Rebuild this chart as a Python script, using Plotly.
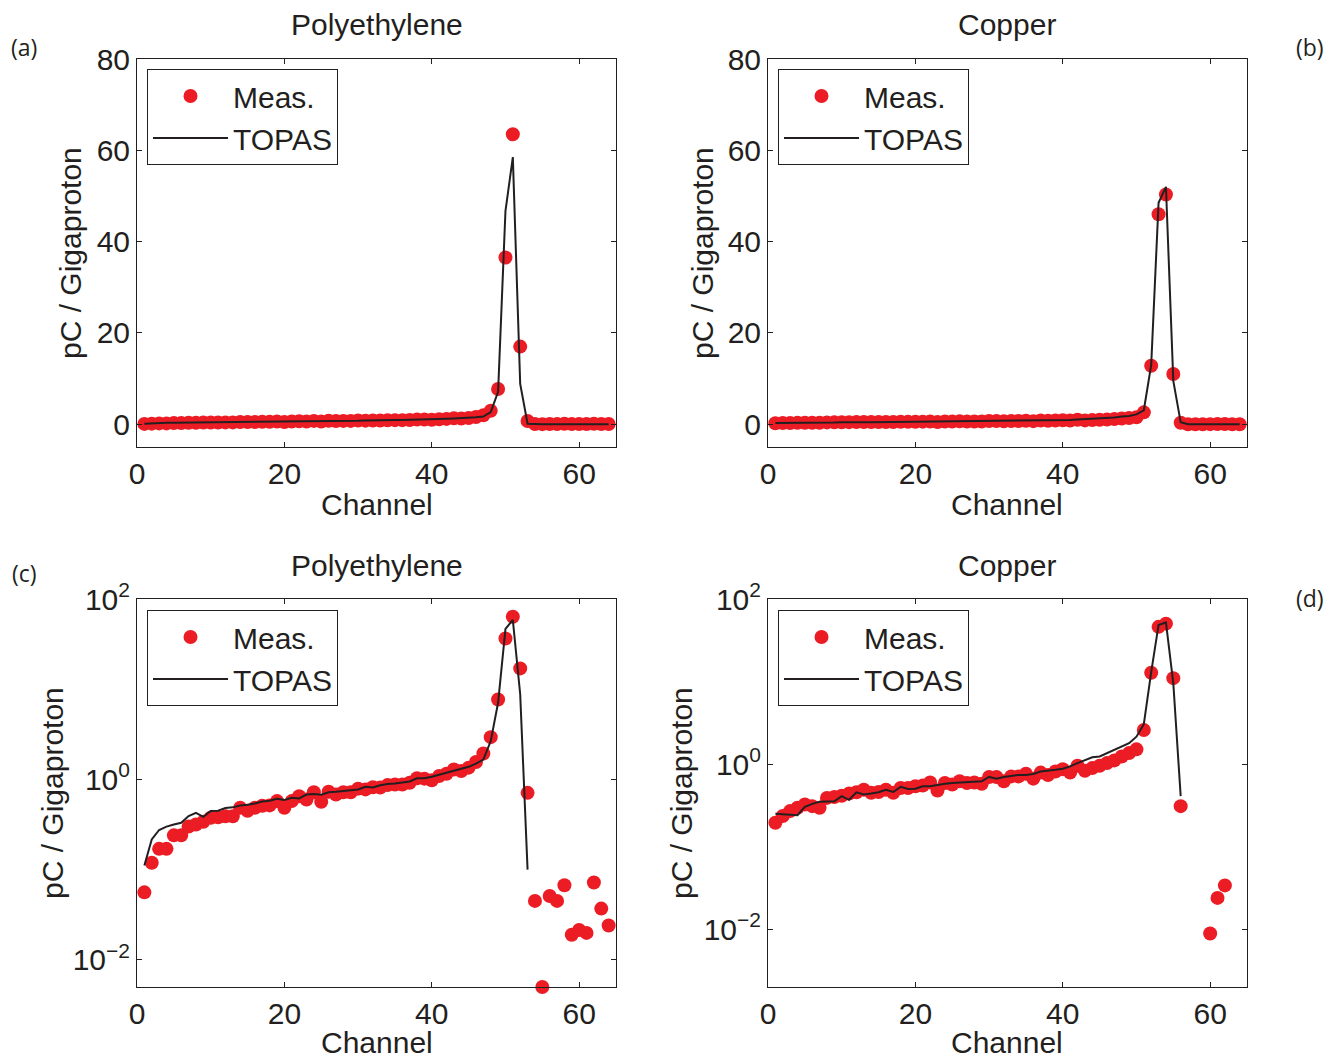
import math
import plotly.graph_objects as go

W, H = 1335, 1057

channels = list(range(1, 65))

poly_meas = [0.056, 0.119, 0.17, 0.17, 0.24, 0.24, 0.30, 0.317, 0.34, 0.376,
             0.38, 0.39, 0.39, 0.485, 0.45, 0.485, 0.51, 0.515, 0.575, 0.485,
             0.575, 0.65, 0.60, 0.72, 0.565, 0.73, 0.68, 0.72, 0.72, 0.79,
             0.775, 0.82, 0.815, 0.865, 0.88, 0.88, 0.92, 1.03, 1.02, 0.98,
             1.09, 1.155, 1.29, 1.24, 1.35, 1.56, 1.94, 2.94, 7.7, 36.5,
             63.5, 17.0, 0.71, 0.045, 0.005, 0.051, 0.045, 0.067, 0.019, 0.0214,
             0.0199, 0.072, 0.037, 0.024]

poly_topas = [0.111, 0.216, 0.275, 0.30, 0.317, 0.331, 0.392, 0.427, 0.385, 0.446,
              0.45, 0.481, 0.49, 0.515, 0.524, 0.54, 0.57, 0.58, 0.61, 0.59,
              0.625, 0.615, 0.68, 0.69, 0.675, 0.72, 0.73, 0.74, 0.755, 0.775,
              0.83, 0.815, 0.86, 0.89, 0.90, 0.93, 0.95, 1.03, 1.03, 1.07,
              1.13, 1.19, 1.26, 1.31, 1.38, 1.50, 1.66, 2.66, 7.07, 46.7,
              58.5, 8.8, 0.10, 0, 0, 0, 0, 0, 0, 0,
              0, 0, 0, 0]

cu_meas = [0.195, 0.235, 0.27, 0.296, 0.324, 0.31, 0.296, 0.39, 0.40, 0.415,
           0.44, 0.456, 0.49, 0.45, 0.46, 0.49, 0.45, 0.515, 0.515, 0.54,
           0.55, 0.60, 0.48, 0.59, 0.565, 0.62, 0.59, 0.60, 0.58, 0.70,
           0.70, 0.62, 0.71, 0.71, 0.765, 0.667, 0.79, 0.74, 0.815, 0.87,
           0.79, 0.955, 0.83, 0.895, 0.955, 1.03, 1.11, 1.24, 1.36, 1.51,
           2.59, 12.8, 46.0, 50.3, 11.0, 0.31, 0, 0, 0, 0.0089,
           0.024, 0.034, 0, 0]

cu_topas = [0.25, 0.247, 0.241, 0.241, 0.304, 0.33, 0.35, 0.35, 0.355, 0.41,
            0.37, 0.456, 0.43, 0.44, 0.456, 0.49, 0.46, 0.53, 0.50, 0.505,
            0.54, 0.54, 0.565, 0.58, 0.59, 0.60, 0.61, 0.62, 0.62, 0.70,
            0.667, 0.70, 0.72, 0.74, 0.74, 0.76, 0.815, 0.83, 0.855, 0.88,
            0.94, 1.03, 1.11, 1.21, 1.24, 1.36, 1.49, 1.66, 1.79, 2.15,
            3.05, 13.0, 48.5, 52.0, 9.5, 0.41, 0, 0, 0, 0,
            0, 0, 0, 0]

x_ticks = [0, 20, 40, 60]
lin_ticks = [0, 20, 40, 60, 80]
log_ticks = [0.01, 1, 100]
log_ticktext = ["10<sup>\u22122</sup>", "10<sup>0</sup>", "10<sup>2</sup>"]

RED = "#EC1C24"
INK = "#231F20"
FONT = "Liberation Sans, Arial, Helvetica, sans-serif"
FS = 30


def positive(vals):
    # zero values cannot be shown on a log axis
    return [v if v > 0 else None for v in vals]


panels = [
    ("x", "y", "legend", poly_meas, poly_topas, False),
    ("x2", "y2", "legend2", cu_meas, cu_topas, False),
    ("x3", "y3", "legend3", poly_meas, poly_topas, True),
    ("x4", "y4", "legend4", cu_meas, cu_topas, True),
]

fig = go.Figure()
for xa, ya, lg, meas, topas, is_log in panels:
    m = positive(meas) if is_log else meas
    t = positive(topas) if is_log else topas
    fig.add_trace(go.Scatter(
        x=channels, y=m, mode="markers", name="Meas.",
        marker=dict(color=RED, size=14, line=dict(width=0)),
        xaxis=xa, yaxis=ya, legend=lg, cliponaxis=False))
    fig.add_trace(go.Scatter(
        x=channels, y=t, mode="lines", name="TOPAS",
        line=dict(color=INK, width=2), connectgaps=False,
        xaxis=xa, yaxis=ya, legend=lg))

colL = [137 / W, 616 / W]
colR = [768 / W, 1247 / W]
rowT = [1 - 447 / H, 1 - 59 / H]
rowB = [1 - 987 / H, 1 - 599 / H]

common = dict(ticks="inside", ticklen=5, tickcolor=INK, showline=True,
              linecolor=INK, linewidth=1, mirror="ticks", showgrid=False,
              zeroline=False, automargin=False,
              tickfont=dict(family=FONT, size=FS, color=INK))


def xax(domain, anchor):
    return dict(domain=domain, anchor=anchor, range=[0, 65], tickvals=x_ticks,
                **common)


def yax_lin(domain, anchor):
    return dict(domain=domain, anchor=anchor, range=[-5, 80], tickvals=lin_ticks,
                **common)


def yax_log(domain, anchor, lo):
    return dict(domain=domain, anchor=anchor, type="log",
                range=[math.log10(lo), 2], tickvals=log_ticks,
                ticktext=log_ticktext, **common)


def legend_at(px, py):
    return dict(x=px / W, y=1 - py / H, xanchor="left", yanchor="top",
                bordercolor=INK, borderwidth=1, bgcolor="white",
                font=dict(family=FONT, size=FS, color=INK), itemwidth=75,
                tracegroupgap=0)


annotations = []


def ann(text, px, py, size=FS, family=FONT, angle=0):
    annotations.append(dict(text=text, x=px / W, y=1 - py / H, xref="paper",
                            yref="paper", xanchor="center", yanchor="middle",
                            showarrow=False, textangle=angle,
                            font=dict(family=family, size=size, color=INK)))


ann("Polyethylene", 377, 24)
ann("Copper", 1007, 24)
ann("Polyethylene", 377, 565)
ann("Copper", 1007, 565)
ann("Channel", 377, 504)
ann("Channel", 1007, 504)
ann("Channel", 377, 1042)
ann("Channel", 1007, 1042)
ann("pC / Gigaproton", 71, 253, angle=-90)
ann("pC / Gigaproton", 703, 253, angle=-90)
ann("pC / Gigaproton", 52, 793, angle=-90)
ann("pC / Gigaproton", 681, 793, angle=-90)
PF = "Open Sans, Noto Sans, sans-serif"
ann("(a)", 24, 47, size=23, family=PF)
ann("(b)", 1310, 47, size=23, family=PF)
ann("(c)", 24, 573, size=23, family=PF)
ann("(d)", 1310, 598, size=23, family=PF)

fig.update_layout(
    width=W, height=H, margin=dict(l=0, r=0, t=0, b=0, autoexpand=False),
    paper_bgcolor="white", plot_bgcolor="white",
    showlegend=True,
    xaxis=xax(colL, "y"), yaxis=yax_lin(rowT, "x"),
    xaxis2=xax(colR, "y2"), yaxis2=yax_lin(rowT, "x2"),
    xaxis3=xax(colL, "y3"), yaxis3=yax_log(rowB, "x3", 0.005),
    xaxis4=xax(colR, "y4"), yaxis4=yax_log(rowB, "x4", 0.002),
    legend=legend_at(147, 69), legend2=legend_at(778, 69),
    legend3=legend_at(147, 610), legend4=legend_at(778, 610),
    annotations=annotations,
)

fig.write_html("out.html")
